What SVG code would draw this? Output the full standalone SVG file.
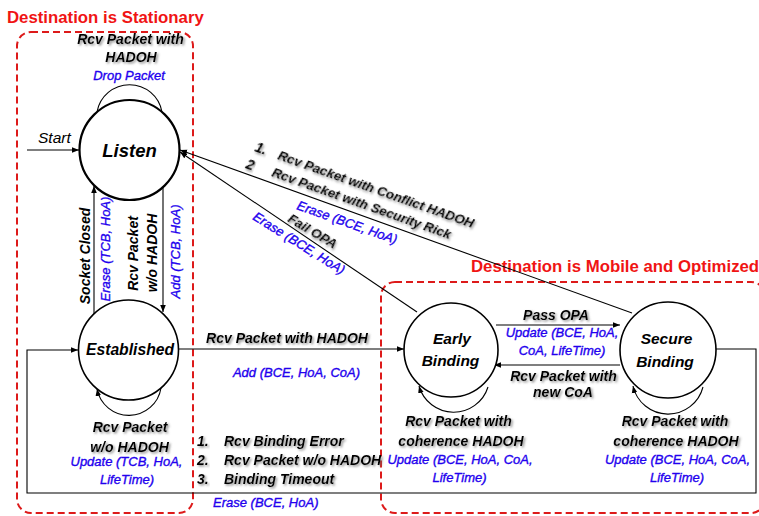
<svg xmlns="http://www.w3.org/2000/svg" width="759" height="516" viewBox="0 0 759 516">
  <defs>
    <marker id="arrow" viewBox="0 0 10 10" refX="10" refY="5" markerWidth="7" markerHeight="7" markerUnits="userSpaceOnUse" orient="auto">
      <path d="M0,1 L10,5 L0,9 z" fill="#000"/>
    </marker>
    <filter id="shadow" x="-10%" y="-40%" width="120%" height="180%">
      <feDropShadow dx="1.5" dy="1.5" stdDeviation="0.9" flood-color="#666" flood-opacity="0.75"/>
    </filter>
  </defs>
  <style>
    .zone{fill:none;stroke:#dd1a1a;stroke-width:2;stroke-dasharray:7 4}
    .title{font-family:"Liberation Sans",Arial,sans-serif;font-weight:bold;font-size:16.8px;fill:#f01414}
    .state{fill:#fff;stroke:#000;stroke-width:1.6}
    .name{font-family:"Liberation Sans",Arial,sans-serif;font-weight:bold;font-style:italic;text-anchor:middle;fill:#000}
    .ev{font-family:"Liberation Sans",Arial,sans-serif;font-weight:bold;font-style:italic;font-size:14px;fill:#000}
    .act{font-family:"Liberation Sans",Arial,sans-serif;font-style:italic;font-size:13px;fill:#2200ee;stroke:#2200ee;stroke-width:0.35px}
    .c{text-anchor:middle}
    .sh{filter:url(#shadow)}
    .edge{fill:none;stroke:#000;stroke-width:1.1}
  </style>
  <rect width="759" height="516" fill="#fff"/>

  <!-- zones -->
  <g id="zone-stationary">
    <rect class="zone" x="17" y="32" width="176" height="481" rx="14"/>
    <text class="title" x="7" y="23">Destination is Stationary</text>
  </g>
  <g id="zone-mobile">
    <rect class="zone" x="381" y="282" width="384" height="231" rx="14"/>
    <text class="title" x="471" y="272">Destination is Mobile and Optimized</text>
  </g>

  <!-- transitions -->
  <g id="connectors">
    <!-- start -->
    <line class="edge" x1="27" y1="150" x2="79" y2="150" marker-end="url(#arrow)"/>
    <text x="38" y="143" font-family="Liberation Sans, Arial, sans-serif" font-style="italic" font-size="15.5" fill="#000">Start</text>

    <!-- Listen self loop -->
    <path class="edge" d="M97 112 A33 33 0 0 1 162 112"/>
    <!-- Listen <-> Established -->
    <line class="edge" x1="94" y1="314" x2="94" y2="186" marker-end="url(#arrow)"/>
    <line class="edge" x1="163" y1="187" x2="163" y2="312" marker-end="url(#arrow)"/>
    <!-- Established self loop -->
    <path class="edge" d="M161 388 A32.5 32.5 0 0 1 97 389" marker-end="url(#arrow)"/>
    <!-- Established -> Early Binding -->
    <line class="edge" x1="178" y1="349" x2="404" y2="349" marker-end="url(#arrow)"/>
    <!-- Secure/Early -> Listen diagonals -->
    <line class="edge" x1="632" y1="313" x2="180" y2="150" marker-end="url(#arrow)"/>
    <line class="edge" x1="417" y1="312" x2="180" y2="152" marker-end="url(#arrow)"/>
    <!-- Early <-> Secure -->
    <line class="edge" x1="496" y1="325" x2="620" y2="325" marker-end="url(#arrow)"/>
    <line class="edge" x1="620" y1="365" x2="494" y2="365" marker-end="url(#arrow)"/>
    <!-- binding loops -->
    <path class="edge" d="M488 387 A36 36 0 0 1 419 386" marker-end="url(#arrow)"/>
    <path class="edge" d="M703 387 A36 36 0 0 1 633 386" marker-end="url(#arrow)"/>
    <!-- return path to Established -->
    <polyline class="edge" points="716,349 756,349 756,493 27,493 27,350 78,350" marker-end="url(#arrow)"/>

    <!-- labels: Listen loop -->
    <text class="ev sh c" x="130.5" y="44">Rcv Packet with</text>
    <text class="ev sh c" x="131" y="62">HADOH</text>
    <text class="act c" x="129" y="79.5">Drop Packet</text>

    <!-- labels: vertical transitions -->
    <text class="ev c" transform="translate(90,256) rotate(-90)">Socket Closed</text>
    <text class="act c" transform="translate(109.5,249) rotate(-90)">Erase (TCB, HoA)</text>
    <text class="ev c" transform="translate(138,253.5) rotate(-90)">Rcv Packet</text>
    <text class="ev c" transform="translate(157,253) rotate(-90)">w/o HADOH</text>
    <text class="act c" transform="translate(180,251.5) rotate(-90)">Add (TCB, HoA)</text>

    <!-- labels: Established loop -->
    <text class="ev sh c" x="130" y="432">Rcv Packet</text>
    <text class="ev sh c" x="129.5" y="452">w/o HADOH</text>
    <text class="act c" x="126.5" y="466">Update (TCB, HoA,</text>
    <text class="act c" x="127" y="484">LifeTime)</text>

    <!-- labels: Established -> Early -->
    <text class="ev sh c" x="287" y="343">Rcv Packet with HADOH</text>
    <text class="act c" x="296.5" y="377">Add (BCE, HoA, CoA)</text>

    <!-- labels: return path -->
    <text class="ev sh" x="197" y="446">1.</text>
    <text class="ev sh" x="224" y="446">Rcv Binding Error</text>
    <text class="ev sh" x="197" y="465">2.</text>
    <text class="ev sh" x="224" y="465">Rcv Packet w/o HADOH</text>
    <text class="ev sh" x="197" y="484">3.</text>
    <text class="ev sh" x="224" y="484">Binding Timeout</text>
    <text class="act" x="213" y="507">Erase (BCE, HoA)</text>

    <!-- labels: diagonals -->
    <text class="ev sh" font-size="13.3" transform="translate(254,151) rotate(19.5)">1.</text>
    <text class="ev sh" font-size="13.3" transform="translate(245,168) rotate(19.5)">2</text>
    <text class="ev sh" style="font-size:13.3px" transform="translate(277,159) rotate(19.5)">Rcv Packet with Conflict HADOH</text>
    <text class="ev sh" style="font-size:13.3px" transform="translate(271,176) rotate(19.5)">Rcv Packet with Security Rick</text>
    <text class="act" transform="translate(296,209) rotate(19.5)">Erase (BCE, HoA)</text>
    <text class="ev sh" style="font-size:13.3px" transform="translate(287,221) rotate(31)">Fail OPA</text>
    <text class="act" transform="translate(252,219) rotate(32)">Erase (BCE, HoA)</text>

    <!-- labels: Early <-> Secure -->
    <text class="ev sh c" x="556" y="320">Pass OPA</text>
    <text class="act c" x="562" y="337">Update (BCE, HoA,</text>
    <text class="act c" x="562" y="355">CoA, LifeTime)</text>
    <text class="ev sh c" x="563.5" y="381">Rcv Packet with</text>
    <text class="ev sh c" x="563" y="397">new CoA</text>

    <!-- labels: binding loops -->
    <text class="ev sh c" x="458.5" y="426">Rcv Packet with</text>
    <text class="ev sh c" x="461" y="446">coherence HADOH</text>
    <text class="act c" x="460" y="464">Update (BCE, HoA, CoA,</text>
    <text class="act c" x="459.5" y="482">LifeTime)</text>
    <text class="ev sh c" x="675" y="426">Rcv Packet with</text>
    <text class="ev sh c" x="676" y="446">coherence HADOH</text>
    <text class="act c" x="677.5" y="464">Update (BCE, HoA, CoA,</text>
    <text class="act c" x="677" y="482">LifeTime)</text>
  </g>

  <!-- states -->
  <g id="listen">
    <circle class="state" cx="129.5" cy="150" r="50" style="stroke-width:2.2"/>
    <text class="name" x="129.5" y="157" font-size="18.5">Listen</text>
  </g>
  <g id="established">
    <circle class="state" cx="128.5" cy="350" r="50"/>
    <text class="name" x="130" y="355" font-size="15.7">Established</text>
  </g>
  <g id="early-binding">
    <circle class="state" cx="451" cy="350" r="47"/>
    <text class="name" x="452" y="344" font-size="15.5">Early</text>
    <text class="name" x="450.5" y="366" font-size="15.5">Binding</text>
  </g>
  <g id="secure-binding">
    <circle class="state" cx="668" cy="350" r="48"/>
    <text class="name" x="666.5" y="344" font-size="15.5">Secure</text>
    <text class="name" x="665" y="367" font-size="15.5">Binding</text>
  </g>
</svg>
